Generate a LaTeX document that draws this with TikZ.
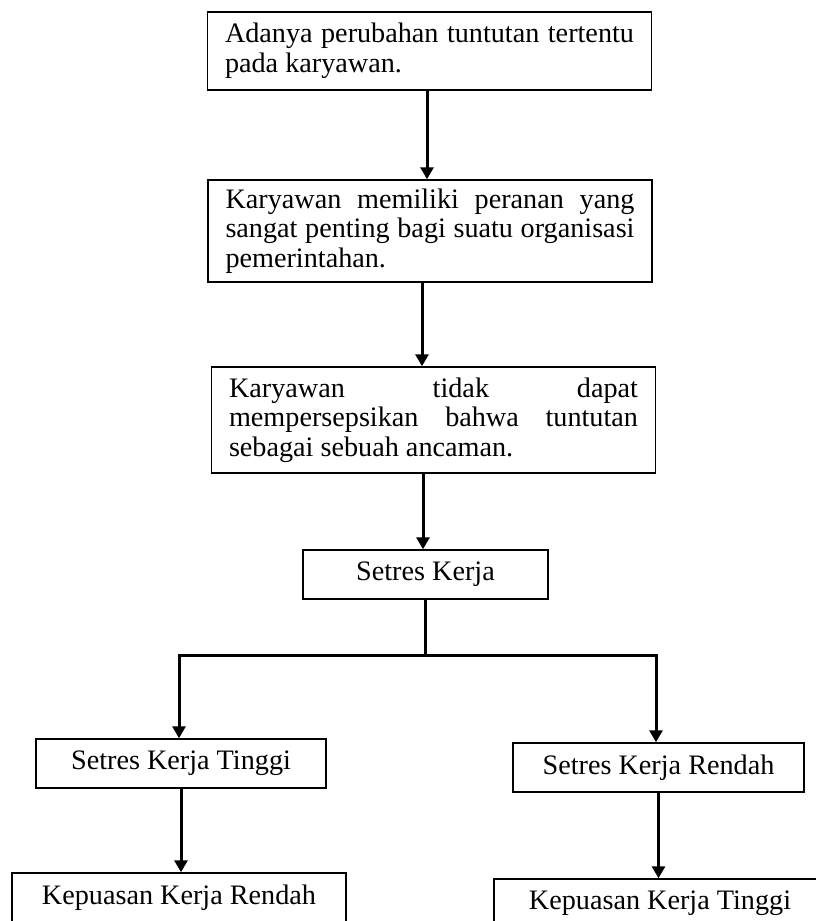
\documentclass[tikz,border=0pt]{standalone}
\usepackage{fontspec}
\setmainfont{Liberation Serif}
\usetikzlibrary{positioning, arrows.meta}

\begin{document}
\begin{tikzpicture}[x=1pt, y=-1pt,
    box/.style={draw, line width=1.5pt, font=\fontsize{28.2}{29.5}\selectfont, inner ysep=0pt},
    para/.style={box, text width=409pt, inner xsep=17.5pt, align=justify},
    lbl/.style={box, inner xsep=0pt, align=center, minimum height=49pt},
    link/.style={line width=3pt},
    arr/.style={link, -{Triangle[length=12pt, width=13pt]}},
  ]
    \useasboundingbox (0,0) rectangle (815,921);

    % Flow boxes
    \node[para, minimum height=78pt] (tuntutan) at (429.5,51)
        {Adanya perubahan tuntutan tertentu\linebreak pada karyawan.};
    \node[para, minimum height=102pt] (peranan) at (430,231)
        {Karyawan memiliki peranan yang\linebreak sangat penting bagi suatu organisasi\linebreak pemerintahan.};
    \node[para, minimum height=106pt] (persepsi) at (433.5,420)
        {Karyawan tidak dapat\linebreak mempersepsikan bahwa tuntutan\linebreak sebagai sebuah ancaman.};
    \node[lbl, minimum width=245pt] (setres) at (425.5,574.5) {Setres Kerja};

    % Two branches
    \node[lbl, minimum width=290pt] (tinggi) at (181,763.5) {Setres Kerja Tinggi};
    \node[lbl, minimum width=291pt] (rendah) at (658.5,767.5) {Setres Kerja Rendah};
    \node[lbl, minimum width=334pt] (puasR) at (179,897.5) {Kepuasan Kerja Rendah};
    \node[lbl, minimum width=332pt] (puasT) at (660,903.5) {Kepuasan Kerja Tinggi};

    % Split points
    \coordinate (lft) at (179,655);
    \coordinate (rgt) at (656,655);

    % Arrows
    \draw[arr] ([xshift=-2.5pt]tuntutan.south) -- ([xshift=-2.5pt]tuntutan.south |- peranan.north);
    \draw[arr] ([xshift=-8pt]peranan.south) -- ([xshift=-8pt]peranan.south |- persepsi.north);
    \draw[arr] ([xshift=-10.5pt]persepsi.south) -- ([xshift=-10.5pt]persepsi.south |- setres.north);
    \draw[arr] (setres.south) |- (lft) -- (lft |- tinggi.north);
    \draw[arr] (setres.south) |- (rgt) -- (rgt |- rendah.north);
    \draw[arr] (tinggi.south) -- (tinggi.south |- puasR.north);
    \draw[arr] (rendah.south) -- (rendah.south |- puasT.north);
\end{tikzpicture}
\end{document}
